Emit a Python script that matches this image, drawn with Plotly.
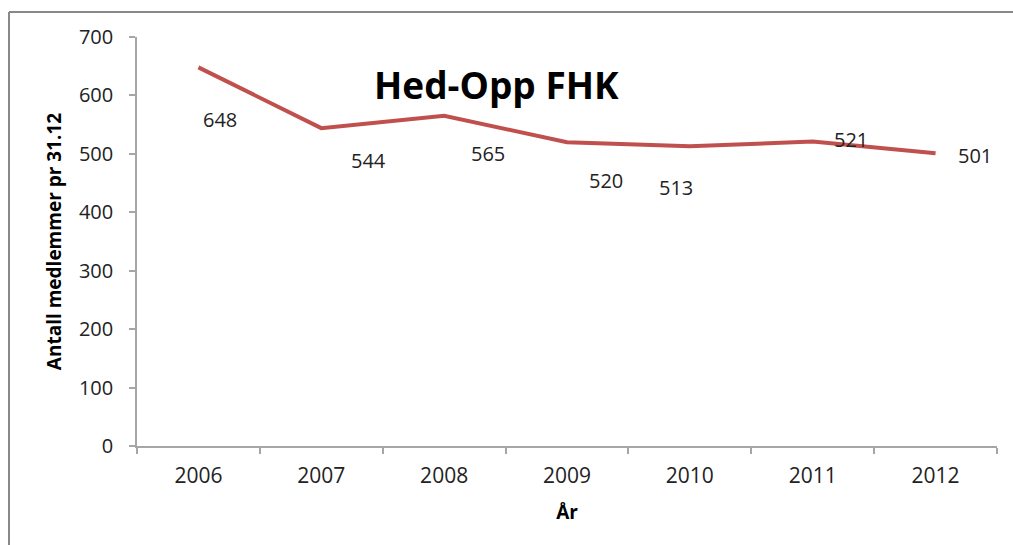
import plotly.graph_objects as go

years = ["2006", "2007", "2008", "2009", "2010", "2011", "2012"]
members = [648, 544, 565, 520, 513, 521, 501]
y_ticks = [0, 100, 200, 300, 400, 500, 600, 700]

# label pixel offsets (style only)
label_dx = [22, 47, 44, 39, -14, 38, 39]
label_dy = [-52, -32, -38, -38, -41, 2, -2]

W, H = 1013, 545
ml, mr, mt, mb = 137, 16, 37, 99
pw, ph = W - ml - mr, H - mt - mb

fig = go.Figure()
fig.add_trace(go.Scatter(
    x=years, y=members, mode="lines",
    line=dict(color="#C0504D", width=4),
    hoverinfo="skip", showlegend=False,
))

for i, (v, dx, dy) in enumerate(zip(members, label_dx, label_dy)):
    fig.add_annotation(x=i, y=v, xref="x", yref="y", text=str(v),
                       showarrow=False, xshift=dx, yshift=dy,
                       font=dict(family="Open Sans", size=20, color="#222222"))

fig.add_annotation(x=(496 - ml) / pw, y=1 - (57 - mt) / ph, xref="paper", yref="paper",
                   text="<b>Hed-Opp FHK</b>", showarrow=False,
                   font=dict(family="Open Sans", size=37, color="#000000"))

# chart border (top and left)
bx = (9 - ml) / pw
by = 1 + (mt - 12) / ph
fig.add_shape(type="line", xref="paper", yref="paper", x0=bx, x1=2, y0=by, y1=by,
              line=dict(color="#888888", width=2))
fig.add_shape(type="line", xref="paper", yref="paper", x0=bx, x1=bx, y0=by, y1=-1,
              line=dict(color="#888888", width=2))

fig.update_xaxes(
    type="category", range=[-0.5, 6.5], tickson="boundaries",
    ticks="outside", ticklen=6, tickcolor="#A6A6A6", tickwidth=1.5,
    showline=True, linecolor="#A6A6A6", linewidth=1.5, showgrid=False,
    ticklabelstandoff=10,
    tickfont=dict(family="Open Sans", size=21, color="#222222"),
    title=dict(text="<b>År</b>", font=dict(family="Open Sans", size=19, color="#000000"), standoff=18),
)
fig.update_yaxes(
    range=[0, 700], tickvals=y_ticks,
    ticks="outside", ticklen=6, tickcolor="#A6A6A6", tickwidth=1.5,
    showline=True, linecolor="#A6A6A6", linewidth=1.5, showgrid=False, zeroline=False,
    ticklabelstandoff=12,
    tickfont=dict(family="Open Sans", size=20, color="#222222"),
    title=dict(text="<b>Antall medlemmer pr 31.12</b>", font=dict(family="Open Sans", size=19, color="#000000"), standoff=12),
)
fig.update_layout(
    width=W, height=H,
    margin=dict(l=ml, r=mr, t=mt, b=mb),
    paper_bgcolor="white", plot_bgcolor="white",
)
fig.write_html("out.html", config={"displayModeBar": False},
               post_script="document.body.style.margin='0';")
